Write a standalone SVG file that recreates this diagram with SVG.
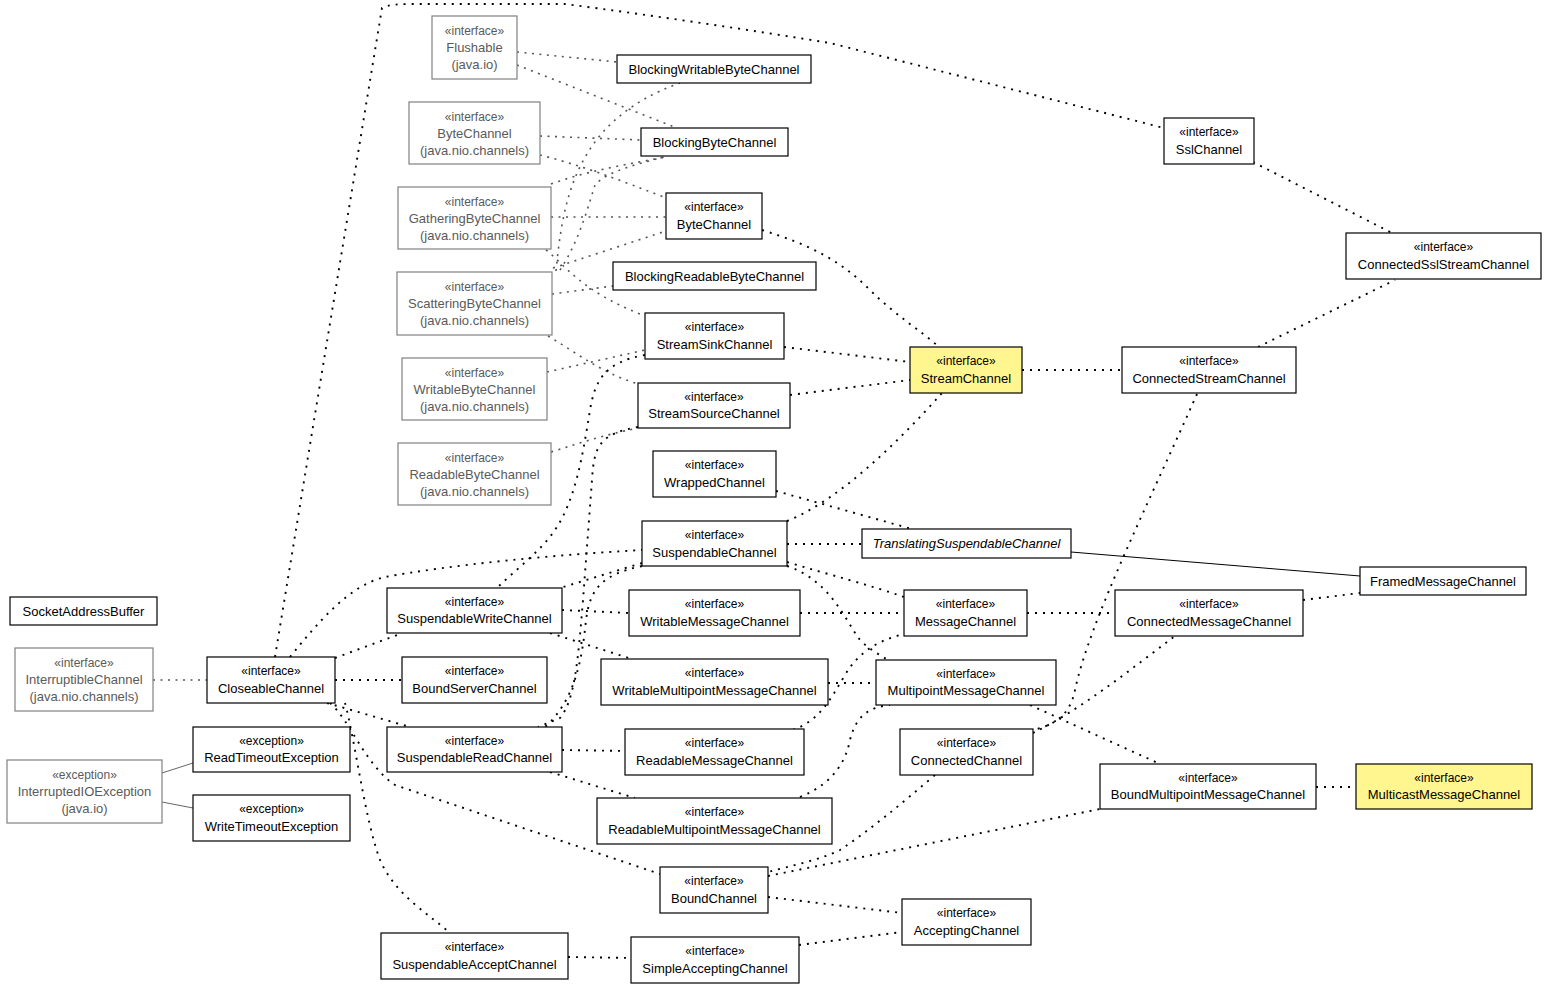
<svg xmlns="http://www.w3.org/2000/svg" width="1547" height="988" viewBox="0 0 1547 988">
<style>
text{font-family:"Liberation Sans",Arial,Helvetica,sans-serif;font-size:13px;text-anchor:middle;fill:#000}
.s{font-size:12px}
.i{font-style:italic}
.n rect{fill:#fff;stroke:#000;stroke-width:1.2}
.x rect{stroke:#808080}
.x text{fill:#5a5a5a}
.y rect{fill:#fff68f}
#edges path{fill:none;stroke:#000;stroke-width:1.9;stroke-dasharray:2 6}
#edges path.g{stroke:#555;stroke-width:1.6;stroke-dasharray:2 5.5}
#edges path.sol{stroke-dasharray:none;stroke-width:1}
#edges path.sg{stroke:#666;stroke-dasharray:none;stroke-width:1}
</style>
<rect width="1547" height="988" fill="#fff"/>
<g id="edges">
<path class="g" d="M517,52 L617,62"/>
<path class="g" d="M517,65 L677,128"/>
<path class="g" d="M540,136 L641,140"/>
<path class="g" d="M540,155 C580,165 620,180 666,198"/>
<path class="g" d="M551,184 C590,170 630,164 665,157"/>
<path class="g" d="M551,217 L666,217"/>
<path class="g" d="M546,250 C565,265 580,290 640,314"/>
<path class="g" d="M556,271 C563,200 575,120 680,83"/>
<path class="g" d="M560,270 C580,240 590,200 595,185 C605,172 640,163 665,157"/>
<path class="g" d="M553,268 L666,231"/>
<path class="g" d="M552,294 L613,286"/>
<path class="g" d="M548,336 C580,355 600,372 638,384"/>
<path class="g" d="M547,372 L645,350"/>
<path class="g" d="M551,452 C580,443 600,436 638,428"/>
<path class="g" d="M153,680 L207,680"/>
<path class="sg" d="M162,773 L193,763"/>
<path class="sg" d="M162,802 L193,808"/>
<path d="M275,657 L382,8 C390,4 400,4 420,4 L565,4 C650,15 750,30 830,43 L1164,128"/>
<path d="M290,657 C320,620 350,585 385,577 C450,565 550,555 642,550"/>
<path d="M335,658 L400,634"/>
<path d="M335,680 L402,680"/>
<path d="M327,703 L410,727"/>
<path d="M330,703 C350,720 365,765 395,785 L660,874"/>
<path d="M345,703 C355,740 365,820 380,860 C395,895 430,915 450,933"/>
<path d="M642,563 L560,588"/>
<path d="M642,566 C600,575 590,590 586,620 C582,660 575,700 545,727"/>
<path d="M645,355 C605,362 595,380 590,410 C582,460 575,500 555,530 C540,552 515,570 497,588"/>
<path d="M638,427 C600,434 594,445 592,480 L583,600 C578,660 575,700 560,718 L538,727"/>
<path d="M787,521 C840,500 900,440 942,393"/>
<path d="M787,544 L862,544"/>
<path d="M787,562 C830,575 870,585 904,597"/>
<path d="M787,566 C830,580 845,620 860,640 C870,650 880,655 888,660"/>
<path d="M776,491 L912,529"/>
<path d="M784,347 L910,362"/>
<path d="M790,395 L910,380"/>
<path d="M762,230 C810,245 840,260 870,290 C895,315 920,330 939,347"/>
<path d="M1022,370 L1122,370"/>
<path d="M1258,347 L1395,280"/>
<path d="M1253,162 L1392,233"/>
<path d="M1197,394 C1150,500 1090,620 1075,690 C1070,715 1055,725 1033,730"/>
<path d="M1033,733 C1080,710 1130,670 1175,636"/>
<path d="M935,775 C900,805 870,830 840,850 C820,860 790,866 768,872"/>
<path d="M1027,613 L1115,613"/>
<path d="M1303,600 L1360,593"/>
<path class="sol" d="M1071,552 L1360,576"/>
<path d="M800,613 L904,613"/>
<path d="M793,730 C820,720 830,700 845,675 C860,650 880,640 904,634"/>
<path d="M828,683 L876,683"/>
<path d="M800,797 C830,785 845,765 850,740 C856,715 870,707 890,705"/>
<path d="M1030,705 L1160,764"/>
<path d="M1316,787 L1356,787"/>
<path d="M768,876 L1100,809"/>
<path d="M768,897 L902,913"/>
<path d="M799,945 L902,932"/>
<path d="M568,957 L631,958"/>
<path d="M562,610 L629,613"/>
<path d="M550,633 L635,660"/>
<path d="M562,750 L625,751"/>
<path d="M550,772 L635,798"/>
</g>
<g id="Flushable" class="n x"><rect x="432" y="16" width="85" height="63"/><text class="s" x="474.5" y="35">«interface»</text><text x="474.5" y="52">Flushable</text><text x="474.5" y="69">(java.io)</text></g>
<g id="NioByteChannel" class="n x"><rect x="409" y="102" width="131" height="62"/><text class="s" x="474.5" y="121">«interface»</text><text x="474.5" y="138">ByteChannel</text><text x="474.5" y="155">(java.nio.channels)</text></g>
<g id="GatheringByteChannel" class="n x"><rect x="398" y="187" width="153" height="62"/><text class="s" x="474.5" y="206">«interface»</text><text x="474.5" y="223">GatheringByteChannel</text><text x="474.5" y="240">(java.nio.channels)</text></g>
<g id="ScatteringByteChannel" class="n x"><rect x="397" y="272" width="155" height="63"/><text class="s" x="474.5" y="291">«interface»</text><text x="474.5" y="308">ScatteringByteChannel</text><text x="474.5" y="325">(java.nio.channels)</text></g>
<g id="WritableByteChannel" class="n x"><rect x="402" y="358" width="145" height="62"/><text class="s" x="474.5" y="377">«interface»</text><text x="474.5" y="394">WritableByteChannel</text><text x="474.5" y="411">(java.nio.channels)</text></g>
<g id="ReadableByteChannel" class="n x"><rect x="398" y="443" width="153" height="62"/><text class="s" x="474.5" y="462">«interface»</text><text x="474.5" y="479">ReadableByteChannel</text><text x="474.5" y="496">(java.nio.channels)</text></g>
<g id="InterruptibleChannel" class="n x"><rect x="15" y="648" width="138" height="63"/><text class="s" x="84" y="667">«interface»</text><text x="84" y="684">InterruptibleChannel</text><text x="84" y="701">(java.nio.channels)</text></g>
<g id="InterruptedIOException" class="n x"><rect x="7" y="760" width="155" height="63"/><text class="s" x="84.5" y="779">«exception»</text><text x="84.5" y="796">InterruptedIOException</text><text x="84.5" y="813">(java.io)</text></g>
<g id="BlockingWritableByteChannel" class="n"><rect x="617" y="55" width="194" height="28"/><text x="714" y="74">BlockingWritableByteChannel</text></g>
<g id="BlockingByteChannel" class="n"><rect x="641" y="128" width="147" height="28"/><text x="714.5" y="147">BlockingByteChannel</text></g>
<g id="ByteChannel" class="n"><rect x="666" y="193" width="96" height="46"/><text class="s" x="714" y="211">«interface»</text><text x="714" y="229">ByteChannel</text></g>
<g id="BlockingReadableByteChannel" class="n"><rect x="613" y="262" width="203" height="28"/><text x="714.5" y="281">BlockingReadableByteChannel</text></g>
<g id="StreamSinkChannel" class="n"><rect x="645" y="313" width="139" height="46"/><text class="s" x="714.5" y="331">«interface»</text><text x="714.5" y="349">StreamSinkChannel</text></g>
<g id="StreamSourceChannel" class="n"><rect x="638" y="383" width="152" height="45"/><text class="s" x="714" y="401">«interface»</text><text x="714" y="418">StreamSourceChannel</text></g>
<g id="WrappedChannel" class="n"><rect x="653" y="451" width="123" height="46"/><text class="s" x="714.5" y="469">«interface»</text><text x="714.5" y="487">WrappedChannel</text></g>
<g id="SuspendableChannel" class="n"><rect x="642" y="521" width="145" height="45"/><text class="s" x="714.5" y="539">«interface»</text><text x="714.5" y="557">SuspendableChannel</text></g>
<g id="SuspendableWriteChannel" class="n"><rect x="387" y="588" width="175" height="45"/><text class="s" x="474.5" y="606">«interface»</text><text x="474.5" y="623">SuspendableWriteChannel</text></g>
<g id="WritableMessageChannel" class="n"><rect x="629" y="590" width="171" height="46"/><text class="s" x="714.5" y="608">«interface»</text><text x="714.5" y="626">WritableMessageChannel</text></g>
<g id="BoundServerChannel" class="n"><rect x="402" y="657" width="145" height="46"/><text class="s" x="474.5" y="675">«interface»</text><text x="474.5" y="693">BoundServerChannel</text></g>
<g id="WritableMultipointMessageChannel" class="n"><rect x="601" y="659" width="227" height="46"/><text class="s" x="714.5" y="677">«interface»</text><text x="714.5" y="695">WritableMultipointMessageChannel</text></g>
<g id="SuspendableReadChannel" class="n"><rect x="387" y="727" width="175" height="45"/><text class="s" x="474.5" y="745">«interface»</text><text x="474.5" y="762">SuspendableReadChannel</text></g>
<g id="ReadableMessageChannel" class="n"><rect x="625" y="729" width="179" height="46"/><text class="s" x="714.5" y="747">«interface»</text><text x="714.5" y="765">ReadableMessageChannel</text></g>
<g id="ReadableMultipointMessageChannel" class="n"><rect x="597" y="798" width="235" height="46"/><text class="s" x="714.5" y="816">«interface»</text><text x="714.5" y="834">ReadableMultipointMessageChannel</text></g>
<g id="BoundChannel" class="n"><rect x="660" y="867" width="108" height="46"/><text class="s" x="714" y="885">«interface»</text><text x="714" y="903">BoundChannel</text></g>
<g id="SuspendableAcceptChannel" class="n"><rect x="381" y="933" width="187" height="46"/><text class="s" x="474.5" y="951">«interface»</text><text x="474.5" y="969">SuspendableAcceptChannel</text></g>
<g id="SimpleAcceptingChannel" class="n"><rect x="631" y="937" width="168" height="46"/><text class="s" x="715" y="955">«interface»</text><text x="715" y="973">SimpleAcceptingChannel</text></g>
<g id="CloseableChannel" class="n"><rect x="207" y="657" width="128" height="46"/><text class="s" x="271" y="675">«interface»</text><text x="271" y="693">CloseableChannel</text></g>
<g id="ReadTimeoutException" class="n"><rect x="193" y="727" width="157" height="45"/><text class="s" x="271.5" y="745">«exception»</text><text x="271.5" y="762">ReadTimeoutException</text></g>
<g id="WriteTimeoutException" class="n"><rect x="193" y="795" width="157" height="46"/><text class="s" x="271.5" y="813">«exception»</text><text x="271.5" y="831">WriteTimeoutException</text></g>
<g id="SocketAddressBuffer" class="n"><rect x="10" y="597" width="147" height="28"/><text x="83.5" y="616">SocketAddressBuffer</text></g>
<g id="TranslatingSuspendableChannel" class="n"><rect x="862" y="529" width="209" height="29"/><text class="i" x="966.5" y="548">TranslatingSuspendableChannel</text></g>
<g id="MessageChannel" class="n"><rect x="904" y="590" width="123" height="46"/><text class="s" x="965.5" y="608">«interface»</text><text x="965.5" y="626">MessageChannel</text></g>
<g id="MultipointMessageChannel" class="n"><rect x="876" y="660" width="180" height="45"/><text class="s" x="966" y="678">«interface»</text><text x="966" y="695">MultipointMessageChannel</text></g>
<g id="ConnectedChannel" class="n"><rect x="900" y="729" width="133" height="46"/><text class="s" x="966.5" y="747">«interface»</text><text x="966.5" y="765">ConnectedChannel</text></g>
<g id="AcceptingChannel" class="n"><rect x="902" y="899" width="129" height="46"/><text class="s" x="966.5" y="917">«interface»</text><text x="966.5" y="935">AcceptingChannel</text></g>
<g id="StreamChannel" class="n y"><rect x="910" y="347" width="112" height="46"/><text class="s" x="966" y="365">«interface»</text><text x="966" y="383">StreamChannel</text></g>
<g id="ConnectedStreamChannel" class="n"><rect x="1122" y="347" width="174" height="46"/><text class="s" x="1209" y="365">«interface»</text><text x="1209" y="383">ConnectedStreamChannel</text></g>
<g id="SslChannel" class="n"><rect x="1164" y="118" width="90" height="46"/><text class="s" x="1209" y="136">«interface»</text><text x="1209" y="154">SslChannel</text></g>
<g id="ConnectedSslStreamChannel" class="n"><rect x="1346" y="233" width="195" height="46"/><text class="s" x="1443.5" y="251">«interface»</text><text x="1443.5" y="269">ConnectedSslStreamChannel</text></g>
<g id="FramedMessageChannel" class="n"><rect x="1360" y="567" width="166" height="28"/><text x="1443" y="586">FramedMessageChannel</text></g>
<g id="ConnectedMessageChannel" class="n"><rect x="1115" y="590" width="188" height="46"/><text class="s" x="1209" y="608">«interface»</text><text x="1209" y="626">ConnectedMessageChannel</text></g>
<g id="BoundMultipointMessageChannel" class="n"><rect x="1100" y="764" width="216" height="45"/><text class="s" x="1208" y="782">«interface»</text><text x="1208" y="799">BoundMultipointMessageChannel</text></g>
<g id="MulticastMessageChannel" class="n y"><rect x="1356" y="764" width="176" height="45"/><text class="s" x="1444" y="782">«interface»</text><text x="1444" y="799">MulticastMessageChannel</text></g>
</svg>
